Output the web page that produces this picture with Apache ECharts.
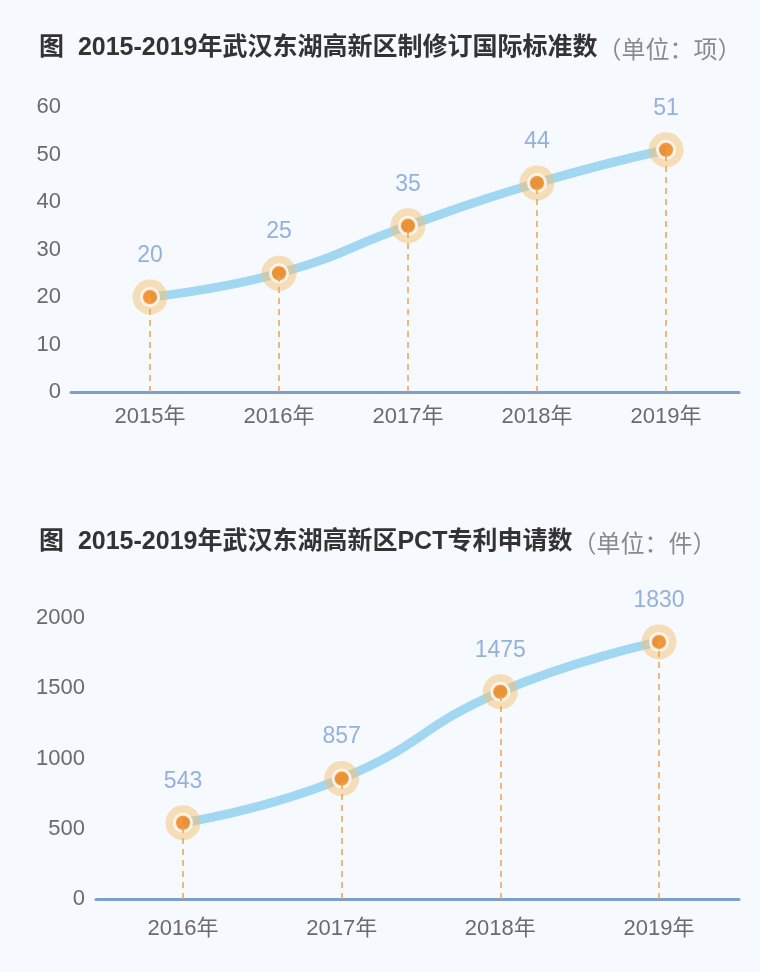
<!DOCTYPE html>
<html>
<head>
<meta charset="utf-8">
<style>
  html, body { margin: 0; padding: 0; background: #f6f9fd; }
  #chart { width: 760px; height: 972px; }
</style>
<script src="https://cdn.jsdelivr.net/npm/echarts@6/dist/echarts.min.js"></script>
</head>
<body>
<div id="chart"></div>
<script>
// 图1 国际标准数
var years1 = ['2015年', '2016年', '2017年', '2018年', '2019年'];
var standards = [20, 25, 35, 44, 51];
// 图2 PCT专利申请数
var years2 = ['2016年', '2017年', '2018年', '2019年'];
var patents = [543, 857, 1475, 1830];

var FONT = '"Liberation Sans", "Noto Sans CJK SC", sans-serif';
var CJK = '"Noto Sans CJK SC", sans-serif';
var lineColor = '#a2d7f2';
var dotColor = '#f0851c';
var haloColor = 'rgba(242, 192, 112, 0.62)';
var labelBlue = '#7b9fd3';
var axisBlue = '#7d9fcd';

function dropLines(values) {
    return values.map(function (v, i) {
        return [{ coord: [i, 0] }, { coord: [i, v] }];
    });
}

function seriesFor(idx, values) {
    return [
        {
            type: 'line', xAxisIndex: idx, yAxisIndex: idx,
            data: values, smooth: 0.5, showSymbol: false, z: 2,
            lineStyle: { color: lineColor, width: 9 },
            markLine: {
                silent: true, symbol: 'none', label: { show: false },
                lineStyle: { color: '#f0a04e', type: [6, 5], width: 1.5 },
                data: dropLines(values)
            }
        },
        {
            type: 'scatter', xAxisIndex: idx, yAxisIndex: idx,
            data: values, symbolSize: 35, z: 3, silent: true,
            itemStyle: { color: haloColor }
        },
        {
            type: 'scatter', xAxisIndex: idx, yAxisIndex: idx,
            data: values, symbolSize: 17, z: 4,
            itemStyle: { color: dotColor, borderColor: '#ffffff', borderWidth: 3 },
            label: {
                show: true, position: 'top', distance: 20,
                color: labelBlue, fontSize: 23, fontFamily: FONT
            }
        }
    ];
}

function titleText(main, unit) {
    return '{b|' + main + '}{g|' + unit + '}';
}
var titleRich = {
    b: { fontSize: 25, fontWeight: 'bold', color: '#333333', fontFamily: FONT },
    g: { fontSize: 24, fontWeight: 'normal', color: '#8a8a8a', fontFamily: CJK }
};

var axisLabelStyle = { color: '#6b6b6b', fontSize: 22, fontFamily: FONT };

var chart = echarts.init(document.getElementById('chart'));
chart.setOption({
    backgroundColor: '#f6f9fd',
    animation: false,
    title: [
        { text: titleText('图  2015-2019年武汉东湖高新区制修订国际标准数', '（单位：项）'),
          left: 34, top: 31, textStyle: { rich: titleRich } },
        { text: titleText('图  2015-2019年武汉东湖高新区PCT专利申请数', '（单位：件）'),
          left: 34, top: 525, textStyle: { rich: titleRich } }
    ],
    grid: [
        { left: 85.5, right: 29.5, top: 107, height: 285 },
        { left: 71, right: 21, top: 107, height: 285 },
        { left: 103.7, right: 21.7, top: 618, height: 281 },
        { left: 96, right: 21, top: 618, height: 281 }
    ],
    xAxis: [
        { type: 'category', gridIndex: 0, data: years1, boundaryGap: true,
          axisLine: { show: false }, axisTick: { show: false },
          axisLabel: Object.assign({ margin: 14 }, axisLabelStyle) },
        { type: 'value', gridIndex: 1, min: 0, max: 1,
          axisLine: { show: true, onZero: false, lineStyle: { color: axisBlue, width: 3 } },
          axisTick: { show: false }, axisLabel: { show: false }, splitLine: { show: false } },
        { type: 'category', gridIndex: 2, data: years2, boundaryGap: true,
          axisLine: { show: false }, axisTick: { show: false },
          axisLabel: Object.assign({ margin: 19 }, axisLabelStyle) },
        { type: 'value', gridIndex: 3, min: 0, max: 1,
          axisLine: { show: true, onZero: false, lineStyle: { color: axisBlue, width: 3 } },
          axisTick: { show: false }, axisLabel: { show: false }, splitLine: { show: false } }
    ],
    yAxis: [
        { type: 'value', gridIndex: 0, min: 0, max: 60, interval: 10,
          axisLine: { show: false }, axisTick: { show: false }, splitLine: { show: false },
          axisLabel: Object.assign({ margin: 24.5 }, axisLabelStyle) },
        { type: 'value', gridIndex: 1, min: 0, max: 1, show: false },
        { type: 'value', gridIndex: 2, min: 0, max: 2000, interval: 500,
          axisLine: { show: false }, axisTick: { show: false }, splitLine: { show: false },
          axisLabel: Object.assign({ margin: 18.7, formatter: function (v) { return String(v); } }, axisLabelStyle) },
        { type: 'value', gridIndex: 3, min: 0, max: 1, show: false }
    ],
    series: seriesFor(0, standards).concat(seriesFor(2, patents))
});
</script>
</body>
</html>
